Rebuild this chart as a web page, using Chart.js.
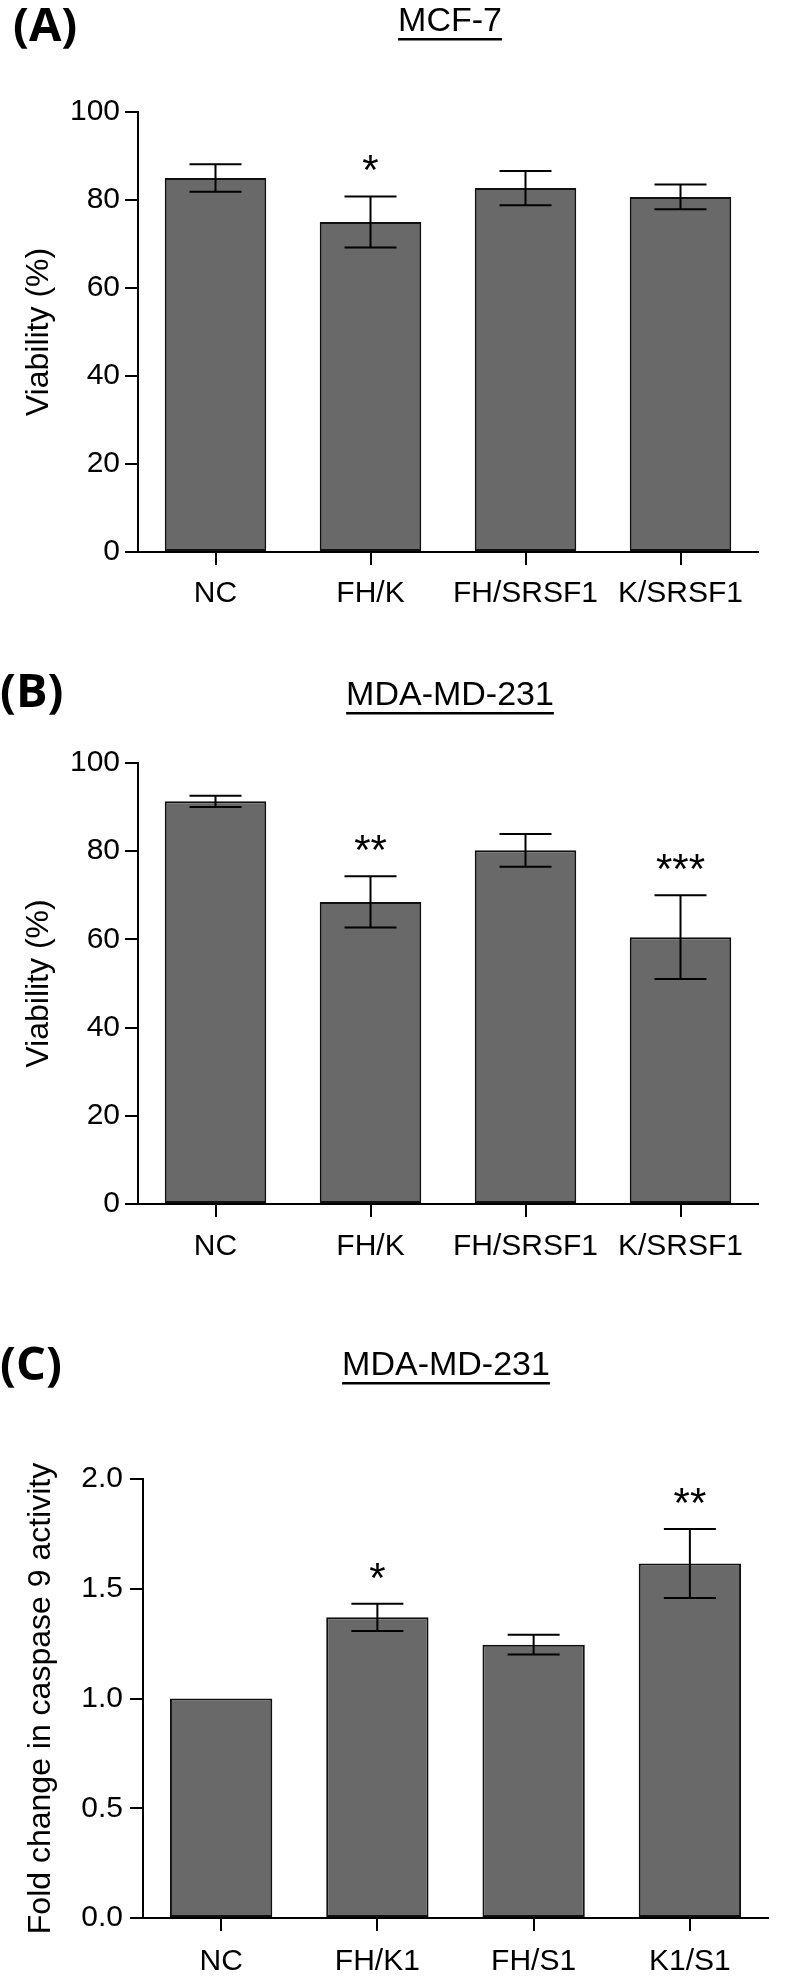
<!DOCTYPE html>
<html>
<head>
<meta charset="utf-8">
<script src="https://cdn.jsdelivr.net/npm/chart.js"></script>
<style>
  body { margin: 0; background: #fff; }
  canvas { position: absolute; left: 0; }
</style>
</head>
<body>
<canvas id="chartA" width="800" height="640" style="top:0px"></canvas>
<canvas id="chartB" width="800" height="655" style="top:640px"></canvas>
<canvas id="chartC" width="800" height="685" style="top:1295px"></canvas>
<script>
// data
const viabilityGroups = ['NC', 'FH/K', 'FH/SRSF1', 'K/SRSF1'];
const mcf7Viability = [85.0, 75.0, 82.7, 80.7];
const mcf7Err = [3.1, 5.8, 3.9, 2.8];
const mcf7Stars = ['', '*', '', ''];

const mdaViability = [91.3, 68.5, 80.2, 60.5];
const mdaErr = [1.3, 5.8, 3.7, 9.5];
const mdaStars = ['', '**', '', '***'];

const caspaseGroups = ['NC', 'FH/K1', 'FH/S1', 'K1/S1'];
const caspaseFold = [1.0, 1.37, 1.245, 1.615];
const caspaseErr = [0, 0.062, 0.045, 0.157];
const caspaseStars = ['', '*', '', '**'];

const viabilityTicks = [0, 20, 40, 60, 80, 100];
const caspaseTicks = [0, 0.5, 1.0, 1.5, 2.0];

const FONT = '"Liberation Sans", Arial, sans-serif';

// error bars + significance stars
const errorBars = {
  id: 'errorBars',
  afterDatasetsDraw(chart, args, opts) {
    const { ctx, scales: { x, y } } = chart;
    const vals = chart.data.datasets[0].data;
    ctx.save();
    ctx.strokeStyle = '#000';
    ctx.fillStyle = '#000';
    ctx.lineWidth = 2;
    vals.forEach((v, i) => {
      const e = opts.errors[i];
      const cx = x.getPixelForValue(i);
      const top = y.getPixelForValue(v + e);
      if (e > 0) {
        const bot = y.getPixelForValue(v - e);
        ctx.beginPath();
        ctx.moveTo(cx, top); ctx.lineTo(cx, bot);
        ctx.moveTo(cx - 26, top); ctx.lineTo(cx + 26, top);
        ctx.moveTo(cx - 26, bot); ctx.lineTo(cx + 26, bot);
        ctx.stroke();
      }
      if (opts.stars[i]) {
        ctx.font = '42px ' + FONT;
        ctx.textAlign = 'center';
        ctx.textBaseline = 'alphabetic';
        ctx.fillText(opts.stars[i], cx, top - 12);
      }
    });
    ctx.restore();
  }
};

// panel letter and underlined title
const panelText = {
  id: 'panelText',
  afterDraw(chart, args, opts) {
    const ctx = chart.ctx;
    ctx.save();
    ctx.fillStyle = '#000';
    ctx.textBaseline = 'alphabetic';
    ctx.font = 'bold 47px "Open Sans", sans-serif';
    ctx.textAlign = 'left';
    ctx.fillText(opts.label, opts.labelX, opts.labelY);
    ctx.font = '34px ' + FONT;
    ctx.textAlign = 'center';
    ctx.fillText(opts.title, opts.titleX, opts.titleY);
    const w = ctx.measureText(opts.title).width;
    ctx.fillRect(opts.titleX - w / 2, opts.titleY + 7, w, 2.5);
    ctx.restore();
  }
};

function makeChart(id, groups, values, errors, stars, yCfg, box, text) {
  return new Chart(document.getElementById(id), {
    type: 'bar',
    data: {
      labels: groups,
      datasets: [{
        data: values,
        backgroundColor: '#696969',
        borderColor: '#111',
        borderWidth: 2,
        borderSkipped: false,
        barPercentage: 0.655,
        categoryPercentage: 1
      }]
    },
    options: {
      responsive: false,
      animation: false,
      layout: { padding: { top: box.top, right: box.right, left: 0, bottom: 0 } },
      plugins: {
        legend: { display: false },
        tooltip: { enabled: false },
        errorBars: { errors: errors, stars: stars },
        panelText: text
      },
      scales: {
        x: {
          offset: true,
          grid: { offset: false, drawOnChartArea: false, color: '#000', lineWidth: 2, tickLength: 13 },
          border: { color: '#000', width: 2 },
          ticks: { color: '#000', font: { family: FONT, size: 30 }, padding: box.xPad, maxRotation: 0 },
          afterFit(s) { s.height = box.xHeight; }
        },
        y: {
          min: yCfg.ticks[0],
          max: yCfg.ticks[yCfg.ticks.length - 1],
          afterBuildTicks(s) { s.ticks = yCfg.ticks.map(v => ({ value: v })); },
          grid: { drawOnChartArea: false, color: '#000', lineWidth: 2, tickLength: 13 },
          border: { color: '#000', width: 2 },
          ticks: { color: '#000', font: { family: FONT, size: 30 }, padding: box.yPad, callback: yCfg.fmt },
          title: {
            display: true,
            text: yCfg.title,
            color: '#000',
            font: { family: FONT, size: yCfg.titleSize },
            padding: { top: yCfg.titlePad, bottom: 0 }
          },
          afterFit(s) { s.width = box.left; }
        }
      }
    },
    plugins: [errorBars, panelText]
  });
}

makeChart('chartA', viabilityGroups, mcf7Viability, mcf7Err, mcf7Stars,
  { ticks: viabilityTicks, fmt: v => String(v), title: 'Viability (%)', titleSize: 32, titlePad: 20 },
  { top: 112, right: 42, left: 138, xHeight: 88, xPad: 11, yPad: 5 },
  { label: '(A)', labelX: 13, labelY: 41, title: 'MCF-7', titleX: 450, titleY: 31 });

makeChart('chartB', viabilityGroups, mdaViability, mdaErr, mdaStars,
  { ticks: viabilityTicks, fmt: v => String(v), title: 'Viability (%)', titleSize: 32, titlePad: 20 },
  { top: 123, right: 42, left: 138, xHeight: 91, xPad: 12, yPad: 5 },
  { label: '(B)', labelX: 0, labelY: 67, title: 'MDA-MD-231', titleX: 450, titleY: 65 });

makeChart('chartC', caspaseGroups, caspaseFold, caspaseErr, caspaseStars,
  { ticks: caspaseTicks, fmt: v => Number(v).toFixed(1), title: 'Fold change in caspase 9 activity', titleSize: 32, titlePad: 22 },
  { top: 184, right: 32, left: 143, xHeight: 62, xPad: 13, yPad: 7 },
  { label: '(C)', labelX: 0, labelY: 85, title: 'MDA-MD-231', titleX: 446, titleY: 80 });
</script>
</body>
</html>
